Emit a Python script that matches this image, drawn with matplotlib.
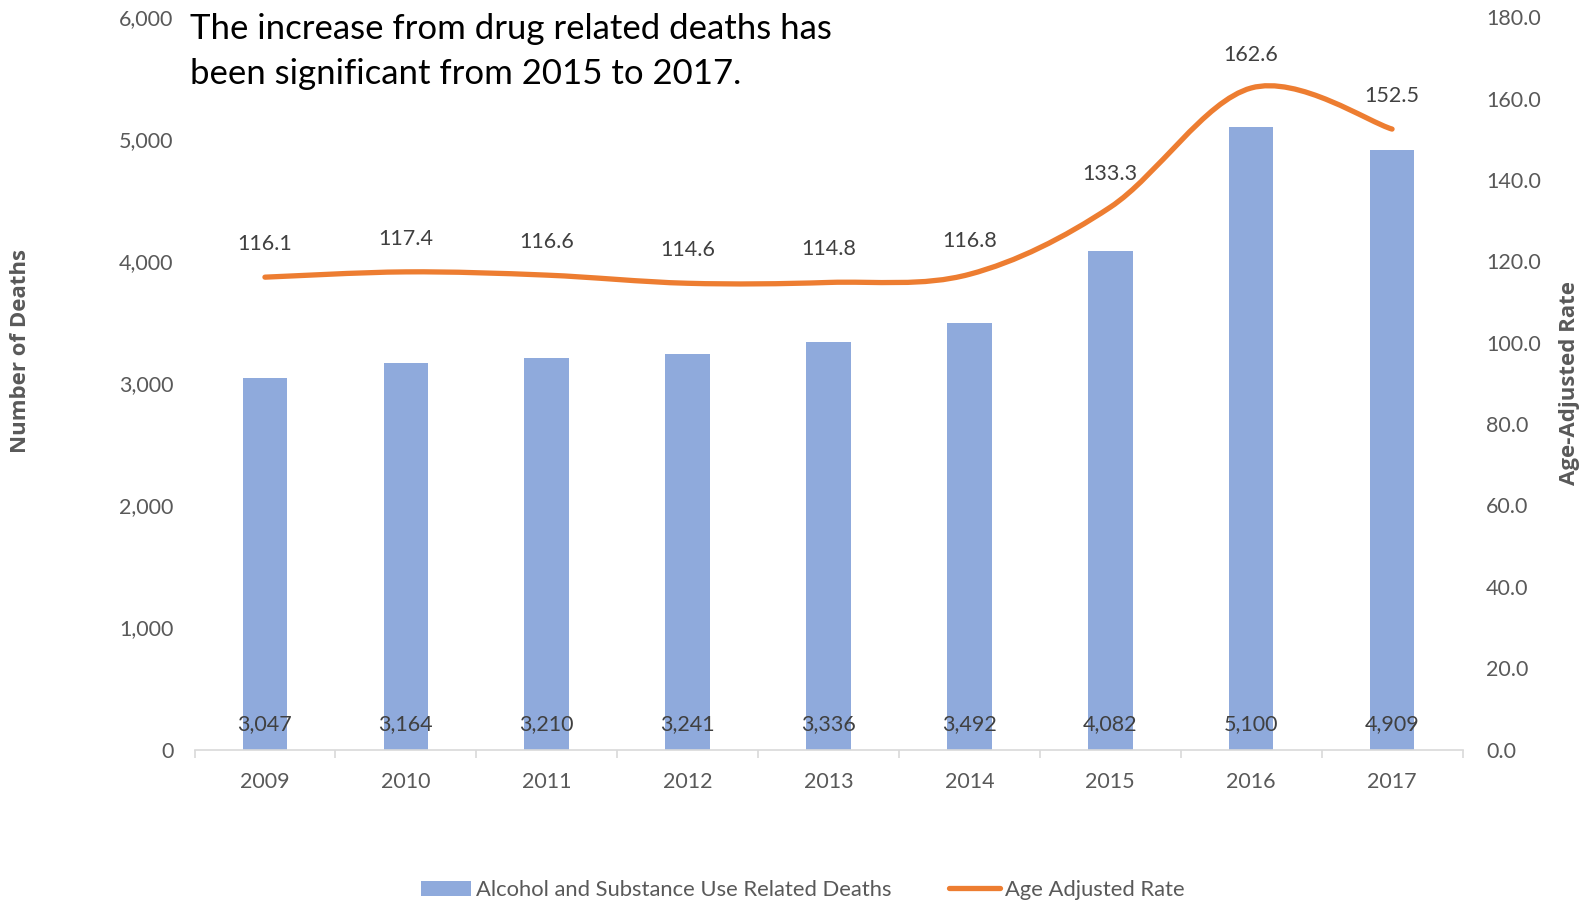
import numpy as np
import matplotlib.pyplot as plt
from matplotlib.path import Path
from matplotlib.patches import PathPatch, Patch
from matplotlib.lines import Line2D
from matplotlib.ticker import FuncFormatter

plt.rcParams['font.family'] = ['Lato', 'DejaVu Sans']

years = ['2009', '2010', '2011', '2012', '2013', '2014', '2015', '2016', '2017']
deaths = [3047, 3164, 3210, 3241, 3336, 3492, 4082, 5100, 4909]
rate = [116.1, 117.4, 116.6, 114.6, 114.8, 116.8, 133.3, 162.6, 152.5]

bar_color = '#8FAADC'
line_color = '#ED7D31'
tick_color = '#595959'
label_color = '#404040'

fig = plt.figure(figsize=(15.88, 9.05), dpi=100)
ax = fig.add_axes([194.5 / 1588, 1 - 749.5 / 905, 1268 / 1588, 732.3 / 905])
ax2 = ax.twinx()

x = np.arange(len(years))
ax.bar(x, deaths, width=0.316, color=bar_color, zorder=2)
ax.set_xlim(-0.5, len(years) - 0.5)
ax.set_ylim(0, 6000)
ax.set_yticks(np.arange(0, 6001, 1000))
ax.yaxis.set_major_formatter(FuncFormatter(lambda v, p: f'{int(v):,}'))
ax2.set_ylim(0, 180)
ax2.set_yticks(np.arange(0, 181, 20))
ax2.yaxis.set_major_formatter(FuncFormatter(lambda v, p: f'{v:.1f}'))

for a in (ax, ax2):
    for s in ['top', 'left', 'right']:
        a.spines[s].set_visible(False)
    a.spines['bottom'].set_color('#D9D9D9')
    a.spines['bottom'].set_linewidth(1.2)
ax2.spines['bottom'].set_visible(False)

ax.set_xticks(x)
ax.set_xticklabels(years)
ax.set_xticks(np.arange(-0.5, len(years), 1), minor=True)
ax.tick_params(axis='x', which='major', length=0, pad=16, labelsize=15.5, labelcolor=tick_color)
ax.tick_params(axis='x', which='minor', length=6, color='#D9D9D9', width=1.2)
ax.tick_params(axis='y', length=0, pad=15, labelsize=15.5, labelcolor=tick_color)
ax2.tick_params(axis='y', length=0, pad=17, labelsize=15.5, labelcolor=tick_color)

ax.set_ylabel('Number of Deaths', fontsize=16, fontweight='bold', color=tick_color,
              family=['Open Sans', 'DejaVu Sans'])
ax.yaxis.set_label_coords(-0.129, 0.5436)
ax2.set_ylabel('Age-Adjusted Rate', fontsize=16, fontweight='bold', color=tick_color,
               family=['Open Sans', 'DejaVu Sans'], rotation=90)
ax2.yaxis.set_label_coords(1.076, 0.5)

# bar value labels near the base
for xi, d in zip(x, deaths):
    ax.annotate(f'{d:,}', (xi, 0), xytext=(0, 18.4), textcoords='offset points',
                ha='center', va='center', fontsize=15.5, color=label_color, zorder=3)

# smoothed line (Excel style) drawn as cubic bezier through data points
pts = np.column_stack([x, rate]).astype(float)
verts = [pts[0]]
codes = [Path.MOVETO]
n = len(pts)
for i in range(n - 1):
    p0 = pts[i - 1] if i > 0 else pts[i]
    p1 = pts[i]
    p2 = pts[i + 1]
    p3 = pts[i + 2] if i + 2 < n else pts[i + 1]
    c1 = p1 + (p2 - p0) / 6
    c2 = p2 - (p3 - p1) / 6
    verts += [c1, c2, p2]
    codes += [Path.CURVE4] * 3
ax2.add_patch(PathPatch(Path(verts, codes), facecolor='none', edgecolor=line_color,
                        linewidth=3.8, capstyle='round', zorder=3))

for xi, r in zip(x, rate):
    ax2.annotate(f'{r:.1f}', (xi, r), xytext=(0, 24), textcoords='offset points',
                 ha='center', va='center', fontsize=15.5, color=label_color)

fig.text(190.4 / 1588, 1 - 51.5 / 905, 'The increase from drug related deaths has\nbeen significant from 2015 to 2017.',
         ha='left', va='center', fontsize=25, color='black', linespacing=1.5)

handles = [Patch(facecolor=bar_color, edgecolor='none'),
           Line2D([0], [0], color=line_color, linewidth=3.8, solid_capstyle='round')]
labels = ['Alcohol and Substance Use Related Deaths', 'Age Adjusted Rate']
fig.legend(handles, labels, loc='center', bbox_to_anchor=(0.5054, 1 - 890 / 905), ncol=2,
           frameon=False, fontsize=15.8, labelcolor=tick_color, handlelength=2.3,
           handleheight=0.7, handletextpad=0.25, columnspacing=2.6)

fig.savefig('out.png', dpi=100)
